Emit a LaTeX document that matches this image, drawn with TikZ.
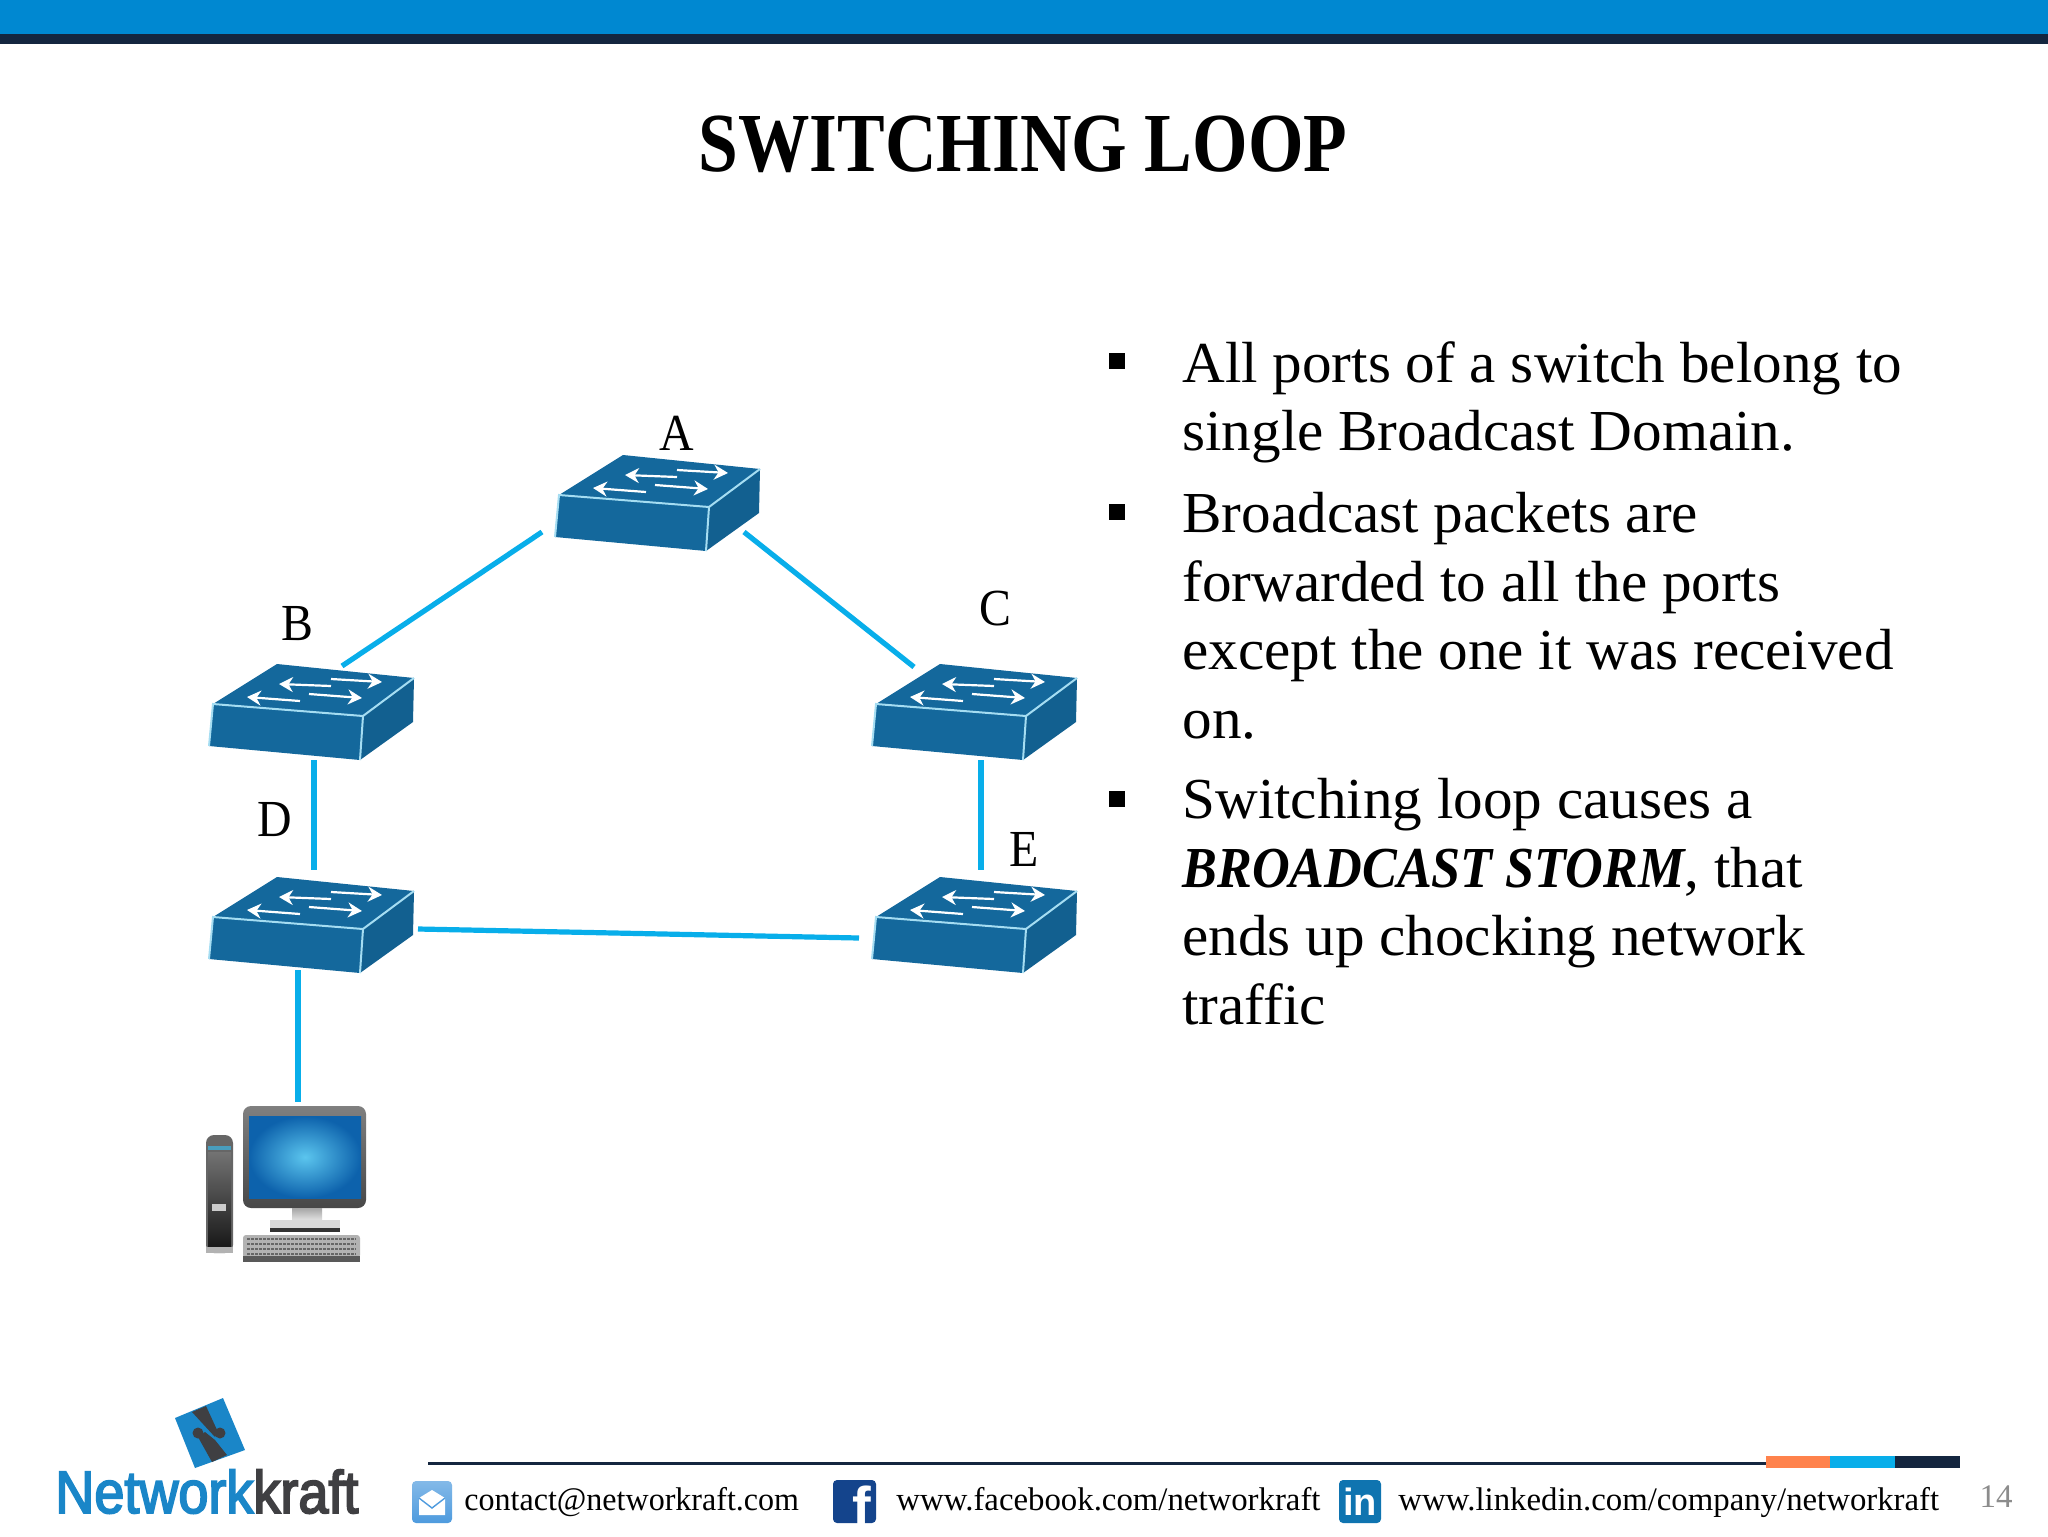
\documentclass[tikz,border=0pt]{standalone}
\usepackage{fontspec}
\setmainfont{Liberation Serif}
\newfontfamily\logofont{Liberation Sans}[FakeStretch=0.9,FakeBold=3]
\newfontfamily\iconfont{Liberation Sans}
\newfontfamily\titlefont{Liberation Serif}[FakeStretch=0.85]
\newfontfamily\bodyfont{Liberation Serif}[FakeStretch=1.02]
\newfontfamily\stormfont{Liberation Serif}[FakeStretch=0.9]
\newfontfamily\contactfont{Liberation Serif}[FakeStretch=0.977]
\newfontfamily\labelfont{Liberation Serif}[FakeStretch=0.92]
\usetikzlibrary{arrows.meta}
\definecolor{barblue}{HTML}{0088D1}
\definecolor{navy}{HTML}{14263F}
\definecolor{linkblue}{HTML}{08AEEA}
\definecolor{swfront}{HTML}{14689C}
\definecolor{swedge}{HTML}{A5DDF2}
\definecolor{logoblue}{HTML}{1A86C8}
\definecolor{logodark}{HTML}{3F3F42}
\definecolor{mailblue}{HTML}{4E9BDE}
\definecolor{fbblue}{HTML}{14448C}
\definecolor{liblue}{HTML}{0F74B0}
\definecolor{screenin}{HTML}{5BC5EE}
\definecolor{screenout}{HTML}{0D62AC}
\tikzset{
  link/.style={draw=linkblue,line width=2.6pt},
  body/.style={anchor=north west,inner sep=0pt,align=left,font=\bodyfont\fontsize{29}{34.3}\selectfont},
  swlabel/.style={inner sep=0pt,font=\labelfont\fontsize{26}{30}\selectfont},
  foot/.style={anchor=base west,inner sep=0pt,font=\fontsize{16.4}{20}\selectfont},
  bullet/.style={fill=black,minimum size=8pt,inner sep=0pt,draw=none},
  swarrow/.style={draw=white,line width=1.1pt,-{Stealth[length=7pt,width=7.5pt]}},
  pics/switch/.style={code={
    \fill[swfront] (64,-40) -- (201,-26) -- (150,12) -- (0,0) -- cycle;
    \fill[swfront] (0,0) -- (150,12) -- (147,56) -- (-4,42) -- cycle;
    \fill[swfront!92!black] (150,12) -- (201,-26) -- (200,18) -- (147,56) -- cycle;
    \draw[swedge,line width=1pt] (-4,42) -- (0,0) -- (150,12) -- (201,-26);
    \draw[swedge,line width=1pt] (150,12) -- (147,56);
    \draw[swarrow] (118,-18) -- (66,-20);
    \draw[swarrow] (118,-25) -- (169,-22);
    \draw[swarrow] (87,-3) -- (34,-7);
    \draw[swarrow] (96,-10) -- (149,-6);
    \coordinate (-sw) at (-17,37);
    \coordinate (-se) at (185,37);
    \coordinate (-ne) at (129,-38);
    \coordinate (-nw) at (38,-37);
    \coordinate (-east) at (205,12);
    \coordinate (-west) at (-17,21);
  }}
}
\begin{document}
\begin{tikzpicture}[x=0.5pt,y=-0.5pt]
\useasboundingbox (0,0) rectangle (2048,1536);
\fill[white] (0,0) rectangle (2048,1536);
% top band
\fill[barblue] (0,0) rectangle (2048,34);
\fill[navy] (0,34) rectangle (2048,44);
% title
\node[inner sep=0pt,anchor=base,font=\titlefont\fontsize{42}{48}\selectfont\bfseries] (title) at (1023,171) {SWITCHING LOOP};
% switches
\pic (swA) at (559,495) {switch};
\pic (swB) at (213,704) {switch};
\pic (swC) at (876,704) {switch};
\pic (swD) at (213,917) {switch};
\pic (swE) at (876,917) {switch};
\coordinate (swB-s) at (314,760);
\coordinate (swD-n) at (314,870);
\coordinate (swC-s) at (981,760);
\coordinate (swE-n) at (981,870);
\coordinate (swD-s) at (298,970);
% labels
\node[swlabel] (lA) at (677,433) {A};
\node[swlabel] (lB) at (297,624) {B};
\node[swlabel] (lC) at (995,609) {C};
\node[swlabel] (lD) at (275,820) {D};
\node[swlabel] (lE) at (1024,849) {E};
% computer
\fill[black!60!white,rounded corners=4pt] (206,1135) rectangle (233,1253);
\shade[top color=black!55!white,bottom color=black!90!white] (208,1152) rectangle (231,1246);
\fill[black!30!white] (206,1247) rectangle (233,1253);
\fill[screenin!80!black] (208,1146) rectangle (231,1150);
\fill[black!20!white] (212,1204) rectangle (226,1211);
\node[top color=black!50!white,bottom color=black!72!white,rounded corners=4pt,minimum width=61.5pt,minimum height=51pt,inner sep=0pt,outer sep=2pt] (pc) at (304.5,1157) {};
\shade[inner color=screenin,outer color=screenout] (249,1116) rectangle (361,1198);
\shade[top color=black!35!white,bottom color=black!12!white] (292,1208) rectangle (322,1220);
\fill[black!15!white] (270,1220) rectangle (340,1228);
\fill[black!80!white] (270,1228) rectangle (340,1232);
\fill[black!30!white,rounded corners=1.5pt] (243,1235) rectangle (360,1258);
\fill[black!65!white] (243,1256) rectangle (360,1262);
\foreach \yy in {1239,1244,1249,1254}{\draw[black!60!white,line width=1pt,dash pattern=on 1.5pt off 0.5pt] (247,\yy) -- (356,\yy);}
% connectors
\draw[link] (swA-sw) -- (swB-ne);
\draw[link] (swA-se) -- (swC-nw);
\draw[link] (swB-s) -- (swD-n);
\draw[link] (swC-s) -- (swE-n);
\draw[link] (swD-east) -- (swE-west);
\draw[link] (swD-s) -- (swD-s |- pc.north);
% bullets and body text
\node[bullet] (b1) at (1117,361) {};
\node[bullet] (b2) at (1117,512) {};
\node[bullet] (b3) at (1117,799) {};
\node[body] (t1) at (1182,341) {All ports of a switch belong to\\single Broadcast Domain.};
\node[body] (t2) at (1182,492) {Broadcast packets are\\forwarded to all the ports\\except the one it was received\\on.};
\node[body] (t3) at (1182,778) {Switching loop causes a\\{\stormfont\bfseries\itshape BROADCAST STORM}, that\\ends up chocking network\\traffic};
% logo
\fill[logoblue] (223,1398) -- (245,1450) -- (195,1468) -- (175,1418) -- cycle;
\fill[logodark] (192,1412) -- (206,1406) -- (218,1432) -- (215,1437) -- cycle;
\fill[logodark] (198,1437) -- (205,1432) -- (215,1440) -- (227,1455) -- (212,1462) -- cycle;
\fill[logodark] (220,1433) circle (5.5);
\fill[logodark] (198,1433) circle (5.5);
\node[inner sep=0pt,anchor=base west,font=\logofont\fontsize{30}{34}\selectfont] (logo) at (55,1513) {\textcolor{logoblue}{Network}\textcolor{logodark}{kraft}};
% footer
\draw[navy,line width=1.5pt] (428,1463) -- (1766,1463);
\fill[orange!60!red!70!white] (1766,1456) rectangle (1830,1468);
\fill[linkblue] (1830,1456) rectangle (1895,1468);
\fill[navy] (1895,1456) rectangle (1960,1468);
\node[top color=mailblue!70!white,bottom color=mailblue,rounded corners=2pt,minimum width=20pt,minimum height=21pt,inner sep=0pt] (mail) at (432,1502) {};
\fill[white] (419,1498) -- (432,1490) -- (445,1498) -- (445,1515) -- (419,1515) -- cycle;
\draw[mailblue,line width=0.7pt] (419,1498) -- (432,1508) -- (445,1498);
\node[foot,font=\contactfont\fontsize{16.4}{20}\selectfont] (contact) at (464,1510) {contact@networkraft.com};
\node[fill=fbblue,rounded corners=2pt,minimum width=21.5pt,minimum height=21.5pt,inner sep=0pt] (fb) at (854.5,1501.5) {};
\node[inner sep=0pt,anchor=base,text=white,font=\iconfont\bfseries\fontsize{28}{30}\selectfont] (fbf) at (862,1526) {f};
\node[foot] (fbt) at (896,1510) {www.facebook.com/networkraft};
\node[fill=liblue,rounded corners=2pt,minimum width=21pt,minimum height=21.5pt,inner sep=0pt,text=white,font=\iconfont\bfseries\fontsize{19}{20}\selectfont] (li) at (1360,1501.5) {in};
\node[foot] (lit) at (1398,1510) {www.linkedin.com/company/networkraft};
\node[inner sep=0pt,anchor=base,text=black!45!white,font=\fontsize{16.5}{18}\selectfont] (page) at (1996,1507) {14};
\end{tikzpicture}
\end{document}
